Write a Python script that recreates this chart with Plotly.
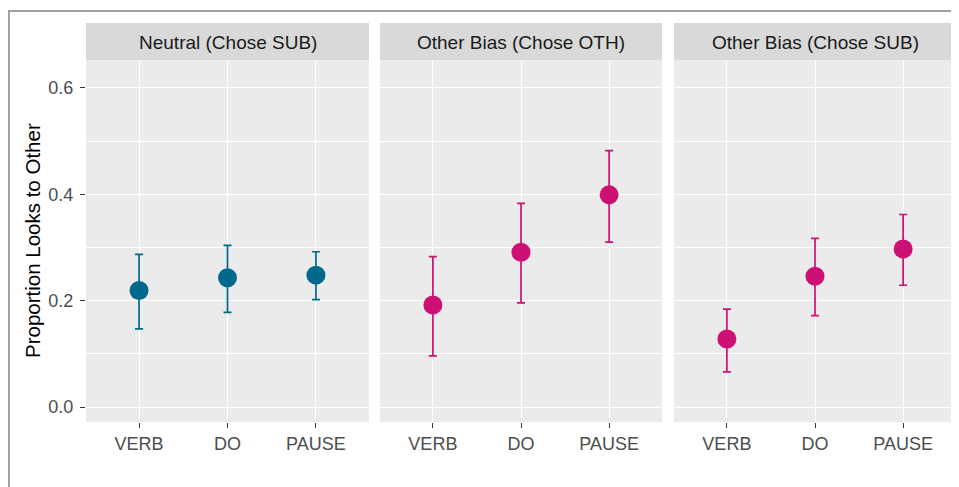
import plotly.graph_objects as go

# page body has an 8px default margin; figure is sized to fit the remaining window
OX, OY = 8, 8
W, H = 959 - OX, 487 - OY

categories = ["VERB", "DO", "PAUSE"]
panel_titles = ["Neutral (Chose SUB)", "Other Bias (Chose OTH)", "Other Bias (Chose SUB)"]

neutral_sub_mean = [0.219, 0.243, 0.248]
neutral_sub_lower = [0.147, 0.178, 0.202]
neutral_sub_upper = [0.287, 0.304, 0.292]

other_oth_mean = [0.192, 0.291, 0.399]
other_oth_lower = [0.096, 0.196, 0.310]
other_oth_upper = [0.283, 0.383, 0.482]

other_sub_mean = [0.128, 0.246, 0.297]
other_sub_lower = [0.066, 0.172, 0.229]
other_sub_upper = [0.184, 0.317, 0.362]

panel_colors = ["#00688B", "#CD1076", "#CD1076"]

y_ticks = [0.0, 0.2, 0.4, 0.6]
y_tick_labels = ["0.0", "0.2", "0.4", "0.6"]
y_minor = [0.1, 0.3, 0.5]
y_title = "Proportion Looks to Other"

means = [neutral_sub_mean, other_oth_mean, other_sub_mean]
lowers = [neutral_sub_lower, other_oth_lower, other_sub_lower]
uppers = [neutral_sub_upper, other_oth_upper, other_sub_upper]


def px(x):
    return (x - OX) / W


def py(y):
    return 1 - (y - OY) / H


panel_px = [(86, 369), (380, 662), (674, 956)]
plot_top, plot_bot = 60, 422
strip_top = 23

fig = go.Figure()
for i in range(3):
    m, lo, up = means[i], lowers[i], uppers[i]
    sfx = "" if i == 0 else str(i + 1)
    fig.add_trace(go.Scatter(
        x=categories, y=m,
        mode="markers",
        marker=dict(color=panel_colors[i], size=19),
        error_y=dict(type="data", symmetric=False,
                     array=[u - v for u, v in zip(up, m)],
                     arrayminus=[v - l for v, l in zip(m, lo)],
                     color=panel_colors[i], thickness=1.7, width=4),
        xaxis="x" + sfx, yaxis="y" + sfx,
        showlegend=False,
    ))

layout = dict(
    width=W, height=H,
    margin=dict(l=0, r=0, t=0, b=0),
    paper_bgcolor="white",
    plot_bgcolor="#EBEBEB",
    template="none",
    font=dict(family="Liberation Sans, Arial, sans-serif"),
    showlegend=False,
)

yrange = [-0.0282, 0.6526]
for i in range(3):
    sfx = "" if i == 0 else str(i + 1)
    x0, x1 = panel_px[i]
    layout["xaxis" + sfx] = dict(
        domain=[px(x0), px(x1)], anchor="y" + sfx,
        type="category", categoryorder="array", categoryarray=categories,
        range=[-0.6, 2.6],
        showgrid=True, gridcolor="white", gridwidth=1.4,
        zeroline=False, showline=False,
        ticks="outside", ticklen=5, tickwidth=1.1, tickcolor="#333333",
        tickfont=dict(size=18, color="#4D4D4D"),
        automargin=False, fixedrange=True,
    )
    layout["yaxis" + sfx] = dict(
        domain=[py(plot_bot), py(plot_top)], anchor="x" + sfx,
        range=yrange,
        tickvals=y_ticks, ticktext=y_tick_labels,
        showticklabels=(i == 0),
        ticks="outside" if i == 0 else "", ticklen=5, tickwidth=1.1, tickcolor="#333333",
        ticklabelstandoff=3,
        tickfont=dict(size=18, color="#4D4D4D"),
        showgrid=True, gridcolor="white", gridwidth=1.4,
        minor=dict(tickvals=y_minor, showgrid=True, gridcolor="white", gridwidth=0.7, ticks=""),
        zeroline=False, showline=False,
        automargin=False, fixedrange=True,
    )

shapes = []
annotations = []
for i in range(3):
    x0, x1 = panel_px[i]
    shapes.append(dict(type="rect", xref="paper", yref="paper",
                       x0=px(x0), x1=px(x1), y0=py(plot_top), y1=py(strip_top),
                       fillcolor="#D9D9D9", line=dict(width=0), layer="below"))
    annotations.append(dict(text=panel_titles[i], xref="paper", yref="paper",
                            x=px((x0 + x1) / 2), y=py((strip_top + plot_top) / 2 + 1.5),
                            xanchor="center", yanchor="middle", showarrow=False,
                            font=dict(size=19, color="#1A1A1A")))

# outer frame lines (top and left)
shapes.append(dict(type="line", xref="paper", yref="paper",
                   x0=px(7), x1=1, y0=py(11), y1=py(11),
                   line=dict(color="#A0A0A0", width=2)))
shapes.append(dict(type="line", xref="paper", yref="paper",
                   x0=px(9), x1=px(9), y0=py(10), y1=0,
                   line=dict(color="#A0A0A0", width=2)))

annotations.append(dict(text=y_title, xref="paper", yref="paper",
                        x=px(32), y=py(241), textangle=-90,
                        xanchor="center", yanchor="middle", showarrow=False,
                        font=dict(size=20.5, color="#000000")))

layout["shapes"] = shapes
layout["annotations"] = annotations
fig.update_layout(**layout)
fig.write_html("out.html")
